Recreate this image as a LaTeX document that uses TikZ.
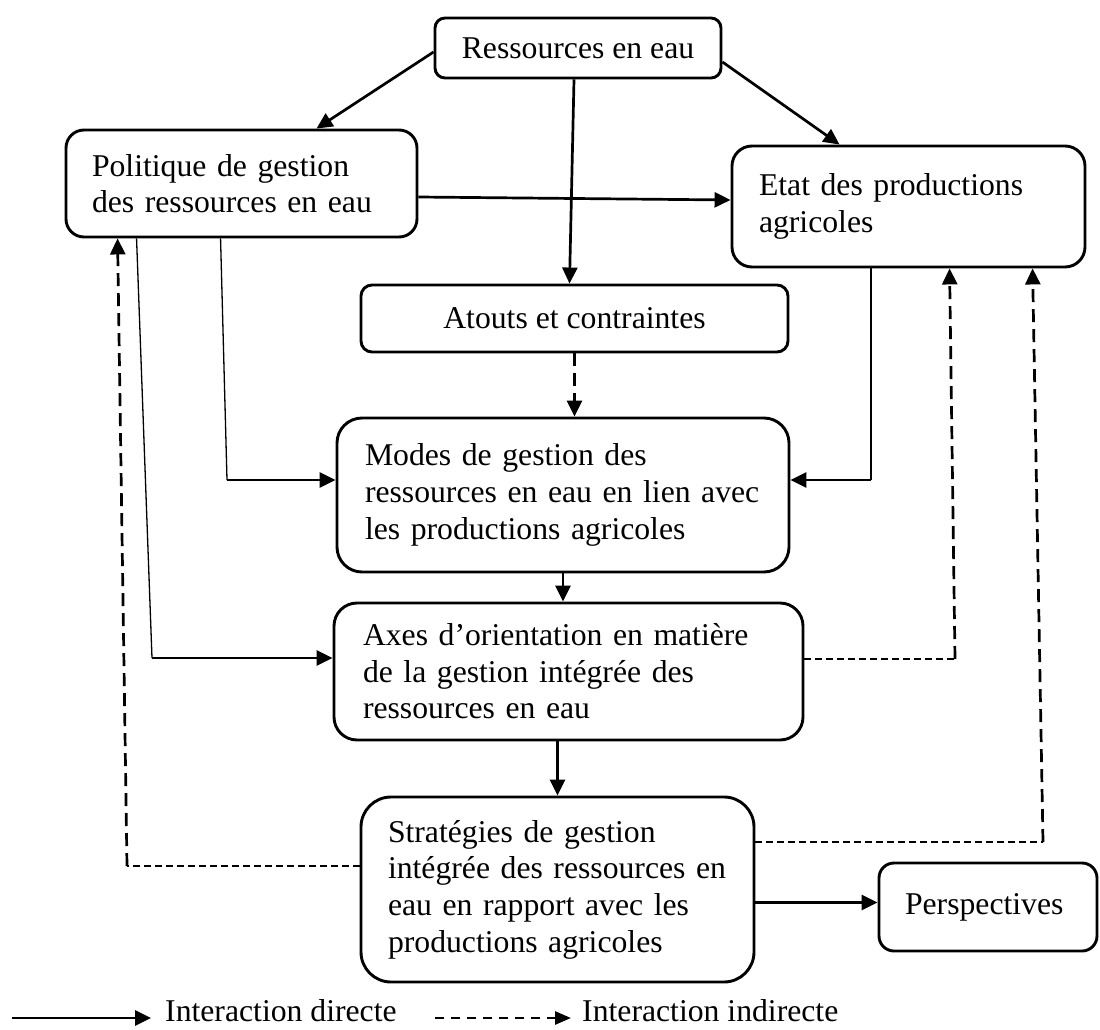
\documentclass[tikz,border=0pt]{standalone}
\usepackage{fontspec}
\setmainfont{Liberation Serif}
\usepackage{tikz}
\usetikzlibrary{positioning,calc,arrows.meta}

\begin{document}
\begin{tikzpicture}[x=1pt,y=-1pt,
    every node/.style={font={\fontsize{31.7pt}{36.6pt}\selectfont}},
    boite/.style={draw,line width=2.9pt,inner sep=0pt,align=left},
    fleche/.style={line width=2.7pt,-{Triangle[length=16pt,width=15pt]}},
    fin/.style={line width=1.3pt},
    tiret/.style={line width=2.7pt,dash pattern=on 13pt off 7pt,-{Triangle[length=16pt,width=15pt]}},
    tiretfin/.style={line width=1.3pt,dash pattern=on 7pt off 4pt},
    tiretleg/.style={line width=2.7pt,dash pattern=on 9pt off 7pt,-{Triangle[length=16pt,width=13pt]}}]
  \useasboundingbox (0,0) rectangle (1100,1030);

  \node[boite,rounded corners=10pt,minimum width=286pt,minimum height=60pt,align=center](R) at (578,48){Ressources en eau};
  \node[boite,rounded corners=18pt,minimum width=351pt,minimum height=107pt,text width=299pt](P) at (241.5,183.5){Politique de gestion\\des ressources en eau};
  \node[boite,rounded corners=20pt,minimum width=353pt,minimum height=121pt,text width=299pt](E) at (908.5,206.5){Etat des productions\\agricoles};
  \node[boite,rounded corners=11pt,minimum width=427pt,minimum height=67pt,align=center](A) at (574.5,318.5){Atouts et contraintes};
  \node[boite,rounded corners=25pt,minimum width=452pt,minimum height=154pt,text width=396pt](M) at (563,495){Modes de gestion des\\ressources en eau en lien avec\\les productions agricoles};
  \node[boite,rounded corners=23pt,minimum width=469pt,minimum height=137pt,text width=411pt](X) at (568.5,671.5){Axes d’orientation en matière\\de la gestion intégrée des\\ressources en eau};
  \node[boite,rounded corners=30pt,minimum width=393pt,minimum height=185pt,text width=339pt](S) at (557.5,889.5){Stratégies de gestion\\intégrée des ressources en\\eau en rapport avec les\\productions agricoles};
  \node[boite,rounded corners=15pt,minimum width=218pt,minimum height=88pt,text width=166pt](Pe) at (988,907){Perspectives};

  \draw[fleche] ($(R.west)+(0,4)$) -- ($(P.north)+(75,0)$);
  \draw[fleche] ($(R.east)+(0,14)$) -- ($(E.north west)+(109,0)$);
  \draw[fleche] ($(R.south)+(-4,0)$) -- ($(A.north)+(-5,0)$);
  \draw[fleche] ($(P.east)+(0,13.5)$) -- ($(E.west)+(0,-6.5)$);
  \draw[tiret] (A.south) -- (A.south |- M.north);
  \draw[fleche] (M.south) -- (M.south |- X.north);
  \draw[fleche] (S.north |- X.south) -- (S.north);
  \coordinate (csp2) at ($(S.east)+(0,13)$);
  \draw[fleche] (csp2) -- (csp2 -| Pe.west);

  \coordinate (cpm) at (227,480);
  \draw[fin] ($(P.south west)+(156,0)$) -- (cpm);
  \draw[fleche] (cpm) -- (M.west |- cpm);
  \coordinate (cpx) at (152,658);
  \draw[fin] ($(P.south west)+(72,0)$) -- (cpx);
  \draw[fleche] (cpx) -- (X.west |- cpx);
  \coordinate (cem) at (871,480);
  \draw[fin] (E.south -| cem) -- (cem);
  \draw[fleche] (cem) -- (M.east |- cem);

  \coordinate (cxe) at (955,659);
  \draw[tiretfin] (X.east |- cxe) -- (cxe);
  \draw[tiret] (cxe) -- ($(E.south west)+(219,0)$);
  \coordinate (cse) at (1043,842);
  \draw[tiretfin] (S.east |- cse) -- (cse);
  \draw[tiret] (cse) -- ($(E.south west)+(302,0)$);
  \coordinate (csp) at (127,866);
  \draw[tiretfin] (S.west |- csp) -- (csp);
  \draw[tiret] (csp) -- ($(P.south west)+(53,0)$);

  \coordinate (l1) at (12,1018);
  \node[anchor=west,inner sep=0pt](ld) at (165,1011){Interaction directe};
  \draw[fleche,shorten >=14pt] (l1) -- (l1 -| ld.west);
  \coordinate (l2) at (435,1018);
  \node[anchor=west,inner sep=0pt](li) at (582,1011){Interaction indirecte};
  \draw[tiretleg,shorten >=11pt] (l2) -- (l2 -| li.west);
\end{tikzpicture}
\end{document}
